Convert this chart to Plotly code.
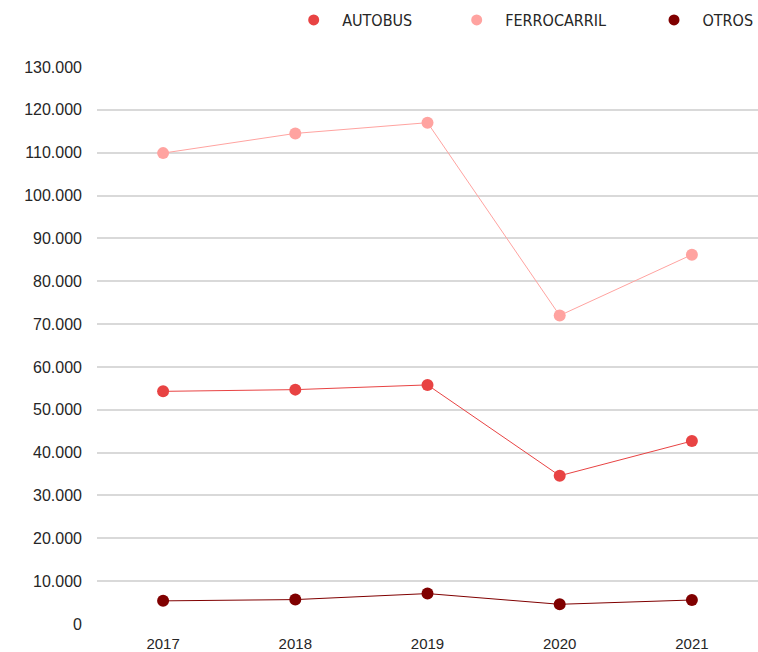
import plotly.graph_objects as go

years = ["2017", "2018", "2019", "2020", "2021"]
autobus = [54300, 54700, 55800, 34600, 42700]
ferrocarril = [109900, 114500, 117000, 72000, 86200]
otros = [5400, 5700, 7100, 4600, 5600]
y_ticks = list(range(0, 130001, 10000))

series = [
    ("AUTOBUS", autobus, "#E84343", "legend"),
    ("FERROCARRIL", ferrocarril, "#FFA3A0", "legend2"),
    ("OTROS", otros, "#800000", "legend3"),
]

fig = go.Figure()
for name, vals, color, leg in series:
    fig.add_trace(go.Scatter(
        x=years, y=vals, name=name, mode="lines+markers",
        line=dict(color=color, width=1),
        marker=dict(color=color, size=12),
        showlegend=False,
    ))
    # legend entry: marker only
    fig.add_trace(go.Scatter(
        x=[None], y=[None], name=name, mode="markers",
        marker=dict(color=color, size=11),
        legend=leg, showlegend=True, hoverinfo="skip",
    ))

text_color = "#262626"
font = dict(family="Liberation Sans, Arial, sans-serif", size=15, color=text_color)
yfont = dict(family="Liberation Sans, Arial, sans-serif", size=16, color=text_color)
legfont = dict(family="DejaVu Sans Condensed, Liberation Sans, sans-serif",
               size=16, color=text_color)
W, H = 758, 652
ml, mr, mt, mb = 97, 0, 67, 28
pw = W - ml - mr
ph = H - mt - mb

def px_x(p):
    return (p - ml) / pw

def px_y(p):
    return (H - mb - p) / ph

leg_common = dict(orientation="h", xanchor="left", yanchor="middle",
                  itemwidth=47, font=legfont, bgcolor="rgba(0,0,0,0)", borderwidth=0)

fig.update_layout(
    width=W, height=H,
    margin=dict(l=ml, r=mr, t=mt, b=mb, autoexpand=False),
    paper_bgcolor="white", plot_bgcolor="white",
    separators=",.",
    font=font,
    legend=dict(x=px_x(313.7 - 28.5), y=px_y(20), **leg_common),
    legend2=dict(x=px_x(476.7 - 28.5), y=px_y(20), **leg_common),
    legend3=dict(x=px_x(674 - 28.5), y=px_y(20), **leg_common),
    xaxis=dict(
        type="category", range=[-0.5, 4.5], showgrid=False, zeroline=False, showline=False,
        ticks="", tickfont=font, ticklabelstandoff=9,
    ),
    yaxis=dict(
        range=[0, 130000], tickvals=y_ticks, tickformat=",d",
        showgrid=True, gridcolor="#D9D9D9", gridwidth=2,
        zeroline=False, showline=False, ticks="",
        tickfont=yfont, ticklabelstandoff=14,
    ),
    showlegend=True,
)

fig.write_html("out.html", config={"displayModeBar": False},
               post_script="document.body.style.margin='0';document.body.style.overflow='hidden';")
